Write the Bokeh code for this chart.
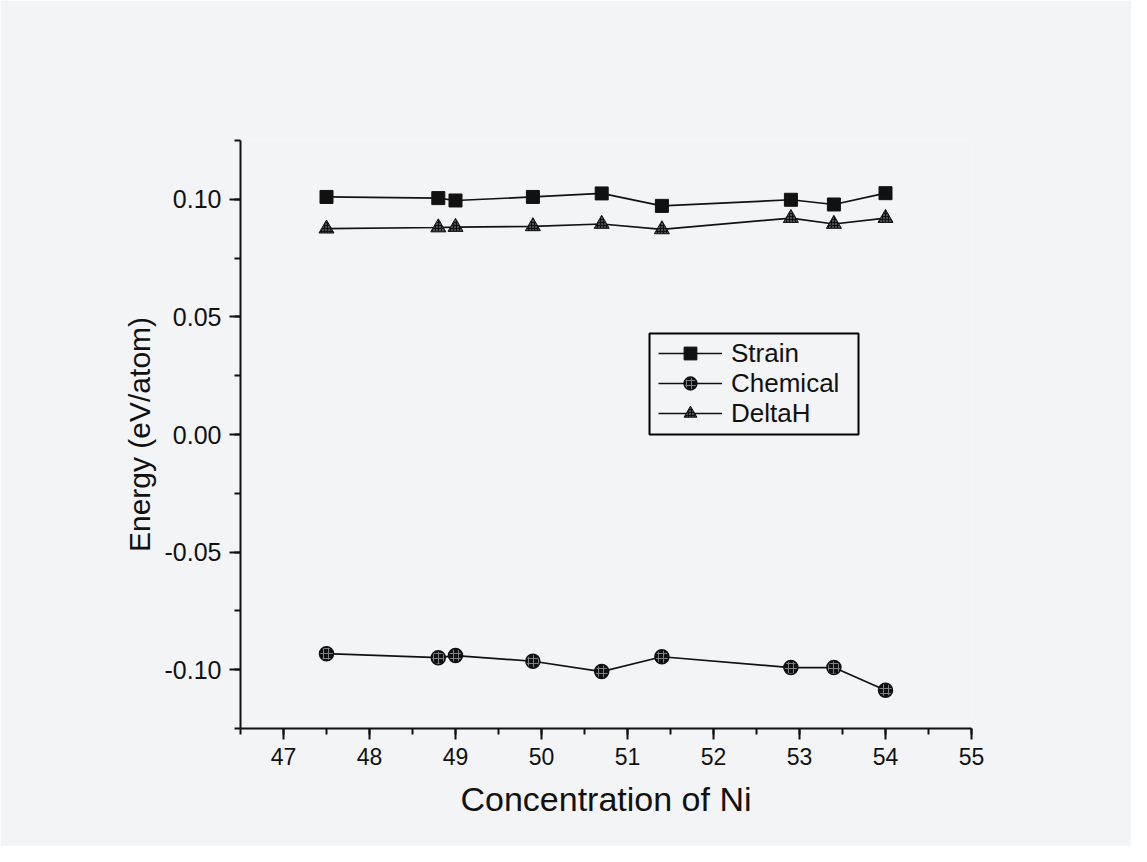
from bokeh.plotting import figure
from bokeh.models import (ColumnDataSource, Range1d, SingleIntervalTicker, NumeralTickFormatter,
                          Legend, LegendItem, BoxAnnotation)
from bokeh.embed import file_html
from bokeh.resources import INLINE

# Data
ni_conc = [47.5, 48.8, 49.0, 49.9, 50.7, 51.4, 52.9, 53.4, 54.0]
strain = [0.1010, 0.1005, 0.0995, 0.1010, 0.1025, 0.0972, 0.0998, 0.0978, 0.1026]
chemical = [-0.0932, -0.0949, -0.0940, -0.0964, -0.1008, -0.0945, -0.0991, -0.0991, -0.1087]
delta_h = [0.0875, 0.0880, 0.0882, 0.0885, 0.0895, 0.0872, 0.0920, 0.0895, 0.0920]
series_labels = ["Strain", "Chemical", "DeltaH"]
x_range = (46.5, 55.0)
y_range = (-0.125, 0.125)

BG = "#f3f4f6"
FONT = "Liberation Sans"
INK = "#111111"

src = ColumnDataSource(dict(x=ni_conc, s=strain, c=chemical, d=delta_h))

p = figure(width=1131, height=846, output_backend="svg", toolbar_location=None,
           x_range=Range1d(*x_range), y_range=Range1d(*y_range),
           min_border_left=240, min_border_right=160, min_border_top=140, min_border_bottom=118,
           frame_width=731, frame_height=588)
p.background_fill_color = BG
p.border_fill_color = BG
p.outline_line_color = None
p.xgrid.visible = False
p.ygrid.visible = False

# Axes
p.xaxis.ticker = SingleIntervalTicker(interval=1, num_minor_ticks=2)
p.yaxis.ticker = SingleIntervalTicker(interval=0.05, num_minor_ticks=2)
p.yaxis.formatter = NumeralTickFormatter(format="0.00")
for ax in (p.xaxis[0], p.yaxis[0]):
    ax.axis_line_width = 2
    ax.axis_line_color = INK
    ax.major_tick_line_width = 2
    ax.minor_tick_line_width = 2
    ax.major_tick_line_color = INK
    ax.minor_tick_line_color = INK
    ax.major_tick_out = 11
    ax.major_tick_in = 0
    ax.minor_tick_out = 6
    ax.minor_tick_in = 0
    ax.major_label_text_font = FONT
    ax.major_label_text_color = INK
    ax.axis_label_text_font = FONT
    ax.axis_label_text_font_style = "normal"
    ax.axis_label_text_color = INK
p.xaxis.major_label_text_font_size = "23px"
p.yaxis.major_label_text_font_size = "25px"
p.xaxis.axis_label_text_font_size = "34px"
p.yaxis.axis_label_text_font_size = "30px"
p.xaxis.axis_label = "Concentration of Ni"
p.yaxis.axis_label = "Energy (eV/atom)"
p.xaxis.major_label_standoff = 8
p.xaxis.axis_label_standoff = 12
p.yaxis.major_label_standoff = 8
p.yaxis.axis_label_standoff = 6

LW = 1.7
ls = p.line("x", "s", source=src, line_color=INK, line_width=LW)
ms = p.scatter("x", "s", source=src, marker="square", size=13, fill_color=INK,
               line_color=INK)
lc = p.line("x", "c", source=src, line_color=INK, line_width=LW)
mc = p.scatter("x", "c", source=src, marker="circle", size=14, fill_color=INK,
               line_color=INK, line_width=1.5, hatch_pattern="+", hatch_color="#808080",
               hatch_scale=5, hatch_weight=1)
ld = p.line("x", "d", source=src, line_color=INK, line_width=LW)
md = p.scatter("x", "d", source=src, marker="triangle", size=15, fill_color=INK,
               line_color=INK, hatch_pattern=".", hatch_color="#aaaaaa",
               hatch_scale=3, hatch_weight=1)

# Legend frame (data units of the legend box corners)
box = BoxAnnotation(left=51.256, right=53.686, top=0.0429, bottom=0.0,
                    fill_color=BG, fill_alpha=1, line_color="black", line_alpha=1,
                    line_width=2)
p.add_layout(box)

rows = [(ls, ms), (lc, mc), (ld, md)]
row_y = [359, 329, 299]
for label, rends, yy in zip(series_labels, rows, row_y):
    lg = Legend(items=[LegendItem(label=label, renderers=list(rends))], location=(418, yy))
    lg.label_text_font = FONT
    lg.label_text_font_size = "26px"
    lg.label_text_color = INK
    lg.glyph_width = 64
    lg.glyph_height = 32
    lg.label_height = 26
    lg.spacing = 0
    lg.padding = 0
    lg.margin = 0
    lg.label_standoff = 9
    lg.border_line_color = None
    lg.background_fill_alpha = 0
    p.add_layout(lg, "center")

open("out.html", "w").write(file_html(p, INLINE))
